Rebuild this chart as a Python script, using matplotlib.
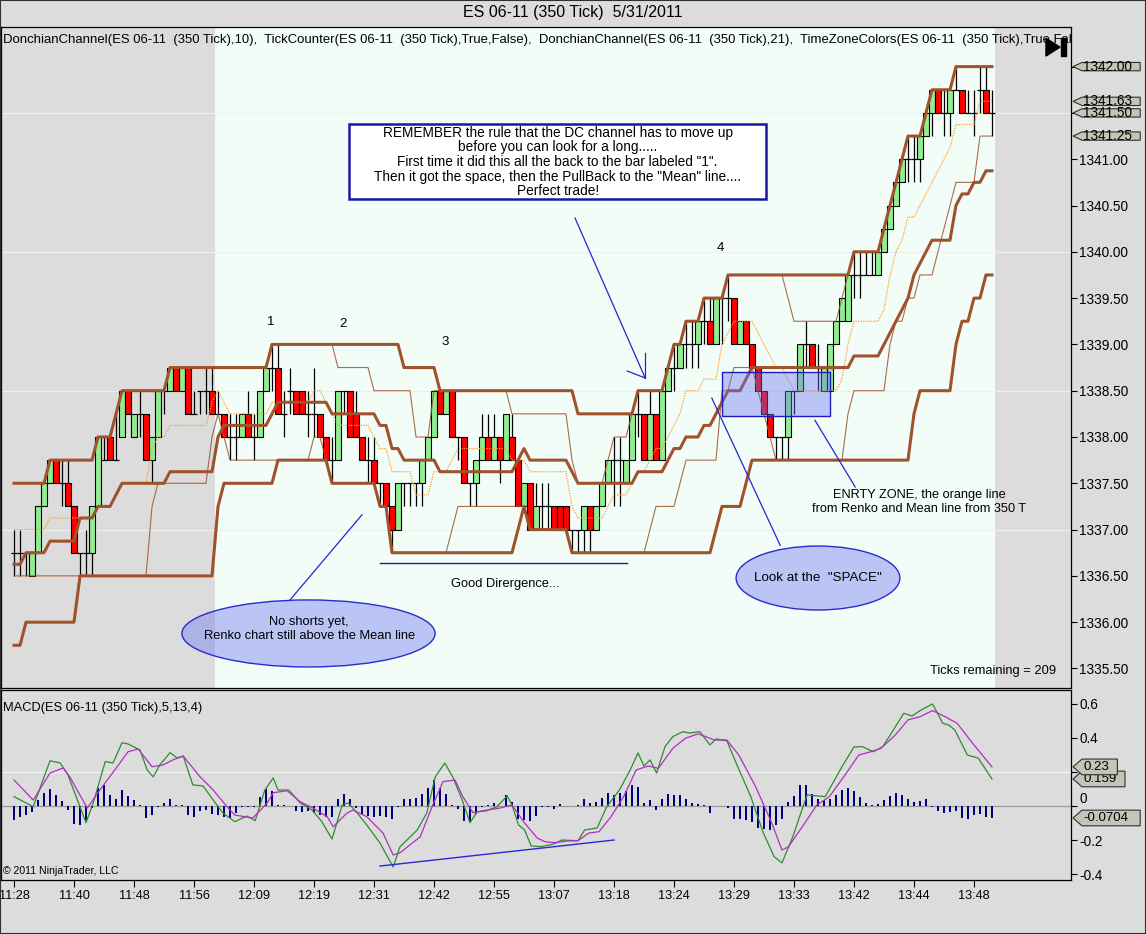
import matplotlib
matplotlib.use("Agg")
import matplotlib.pyplot as plt
import numpy as np
import pandas as pd
from matplotlib.patches import Rectangle, Ellipse, Polygon

plt.rcParams['font.family'] = ['Liberation Sans', 'DejaVu Sans']

# ---------------- data ----------------
opens = [1336.75, 1336.75, 1336.75, 1336.5, 1336.75, 1337.25, 1337.5, 1337.75, 1337.5, 1337.5,
         1337.25, 1336.75, 1336.75, 1336.75, 1337.25, 1337.75, 1338.0, 1337.75, 1338.0, 1338.5,
         1338.0, 1338.25, 1338.25, 1337.75, 1338.0, 1338.5, 1338.5, 1338.75, 1338.5, 1338.75,
         1338.25, 1338.5, 1338.5, 1338.5, 1338.25, 1338.25, 1338.0, 1338.0, 1338.0, 1338.25,
         1338.0, 1338.0, 1338.5, 1338.75, 1338.75, 1338.25, 1338.5, 1338.5, 1338.5, 1338.25,
         1338.25, 1338.25, 1338.0, 1337.75, 1337.75, 1338.5, 1338.5, 1338.25, 1338.0, 1337.75,
         1337.75, 1337.5, 1337.5, 1337.25, 1337.0, 1337.5, 1337.5, 1337.5, 1337.5, 1337.75,
         1338.0, 1338.5, 1338.25, 1338.5, 1338.0, 1338.0, 1337.5, 1337.5, 1337.75, 1338.0,
         1337.75, 1338.0, 1337.75, 1338.0, 1337.75, 1337.25, 1337.5, 1337.0, 1337.25, 1337.25,
         1337.25, 1337.25, 1337.25, 1337.0, 1337.0, 1337.0, 1337.25, 1337.0, 1337.25, 1337.5,
         1337.75, 1337.75, 1337.5, 1337.75, 1338.25, 1338.25, 1337.75, 1338.25, 1337.75, 1338.5,
         1338.75, 1338.75, 1339.0, 1339.0, 1339.0, 1339.25, 1339.25, 1339.0, 1339.5, 1339.5,
         1339.5, 1339.0, 1339.25, 1339.0, 1338.75, 1338.5, 1338.25, 1338.0, 1338.0, 1338.0,
         1338.5, 1338.5, 1339.0, 1339.0, 1338.75, 1338.5, 1338.5, 1339.0, 1339.25, 1339.25,
         1339.75, 1339.75, 1339.75, 1339.75, 1339.75, 1340.0, 1340.25, 1340.5, 1340.75, 1341.0,
         1341.0, 1341.0, 1341.25, 1341.5, 1341.75, 1341.5, 1341.5, 1341.75, 1341.75, 1341.5,
         1341.5, 1341.75, 1341.75, 1341.5]
highs = [1337.0, 1337.0, 1336.75, 1336.75, 1337.25, 1337.5, 1337.75, 1337.75, 1337.75, 1337.75,
         1337.25, 1336.75, 1337.0, 1337.25, 1338.0, 1338.0, 1338.0, 1338.25, 1338.5, 1338.5,
         1338.25, 1338.5, 1338.25, 1338.0, 1338.5, 1338.5, 1338.75, 1338.75, 1338.75, 1338.75,
         1338.5, 1338.5, 1338.75, 1338.75, 1338.5, 1338.25, 1338.25, 1338.25, 1338.25, 1338.5,
         1338.25, 1338.5, 1338.75, 1339.0, 1339.0, 1338.5, 1338.75, 1338.5, 1338.5, 1338.5,
         1338.75, 1338.25, 1338.0, 1338.0, 1338.5, 1338.5, 1338.5, 1338.5, 1338.0, 1338.0,
         1338.0, 1337.5, 1337.5, 1337.25, 1337.5, 1337.5, 1337.5, 1337.5, 1337.75, 1338.0,
         1338.5, 1338.5, 1338.5, 1338.5, 1338.0, 1338.0, 1337.5, 1337.75, 1338.25, 1338.25,
         1338.25, 1338.0, 1338.25, 1338.25, 1337.75, 1337.5, 1337.5, 1337.5, 1337.5, 1337.5,
         1337.25, 1337.25, 1337.25, 1337.0, 1337.0, 1337.25, 1337.25, 1337.25, 1337.5, 1337.75,
         1338.0, 1338.0, 1337.75, 1338.25, 1338.5, 1338.25, 1338.5, 1338.25, 1338.5, 1338.75,
         1339.0, 1339.0, 1339.25, 1339.25, 1339.25, 1339.5, 1339.5, 1339.5, 1339.5, 1339.75,
         1339.5, 1339.25, 1339.25, 1339.0, 1338.75, 1338.5, 1338.25, 1338.0, 1338.0, 1338.5,
         1338.5, 1339.0, 1339.25, 1339.0, 1339.0, 1338.75, 1339.0, 1339.25, 1339.5, 1339.75,
         1340.0, 1340.0, 1340.0, 1340.0, 1340.0, 1340.25, 1340.5, 1340.75, 1341.0, 1341.25,
         1341.25, 1341.25, 1341.5, 1341.75, 1341.75, 1341.75, 1341.75, 1342.0, 1341.75, 1341.75,
         1341.75, 1342.0, 1342.0, 1341.75]
lows = [1336.5, 1336.5, 1336.5, 1336.5, 1336.75, 1337.25, 1337.5, 1337.5, 1337.25, 1337.25,
        1336.75, 1336.5, 1336.5, 1336.5, 1337.25, 1337.75, 1337.75, 1337.75, 1338.0, 1338.25,
        1338.0, 1338.0, 1337.75, 1337.5, 1338.0, 1338.25, 1338.5, 1338.5, 1338.5, 1338.25,
        1338.25, 1338.25, 1338.25, 1338.25, 1338.25, 1338.0, 1337.75, 1337.75, 1338.0, 1338.0,
        1337.75, 1338.0, 1338.5, 1338.5, 1338.25, 1338.0, 1338.25, 1338.25, 1338.25, 1338.0,
        1338.0, 1338.0, 1337.75, 1337.5, 1337.75, 1338.25, 1338.0, 1338.0, 1337.75, 1337.5,
        1337.5, 1337.25, 1337.25, 1336.75, 1337.0, 1337.25, 1337.25, 1337.25, 1337.25, 1337.75,
        1338.0, 1338.25, 1338.25, 1338.0, 1337.75, 1337.5, 1337.25, 1337.25, 1337.75, 1337.75,
        1337.75, 1337.5, 1337.75, 1337.75, 1337.25, 1337.25, 1337.0, 1337.0, 1337.0, 1337.0,
        1337.0, 1337.0, 1337.0, 1336.75, 1336.75, 1336.75, 1336.75, 1337.0, 1337.25, 1337.5,
        1337.25, 1337.25, 1337.5, 1337.75, 1338.0, 1337.75, 1337.75, 1337.75, 1337.75, 1338.5,
        1338.5, 1338.75, 1338.75, 1338.75, 1338.75, 1339.0, 1339.0, 1339.0, 1339.0, 1339.25,
        1339.0, 1339.0, 1339.0, 1338.75, 1338.5, 1338.25, 1338.0, 1337.75, 1337.75, 1337.75,
        1338.25, 1338.5, 1338.75, 1338.75, 1338.5, 1338.5, 1338.5, 1339.0, 1339.25, 1339.25,
        1339.5, 1339.5, 1339.75, 1339.75, 1339.75, 1340.0, 1340.25, 1340.5, 1340.75, 1340.75,
        1340.75, 1340.75, 1341.25, 1341.25, 1341.5, 1341.25, 1341.25, 1341.75, 1341.5, 1341.5,
        1341.25, 1341.5, 1341.5, 1341.25]
closes = [1336.75, 1336.75, 1336.75, 1336.75, 1337.25, 1337.5, 1337.75, 1337.5, 1337.5, 1337.25,
          1336.75, 1336.75, 1336.75, 1337.25, 1338.0, 1337.75, 1337.75, 1337.75, 1338.5, 1338.25,
          1338.25, 1338.25, 1337.75, 1338.0, 1338.5, 1338.5, 1338.75, 1338.5, 1338.75, 1338.25,
          1338.25, 1338.5, 1338.5, 1338.25, 1338.25, 1338.0, 1338.0, 1338.0, 1338.25, 1338.0,
          1338.0, 1338.5, 1338.75, 1338.75, 1338.25, 1338.25, 1338.5, 1338.25, 1338.25, 1338.25,
          1338.25, 1338.0, 1337.75, 1337.75, 1338.5, 1338.5, 1338.0, 1338.0, 1337.75, 1337.75,
          1337.5, 1337.5, 1337.25, 1337.0, 1337.5, 1337.5, 1337.5, 1337.5, 1337.75, 1338.0,
          1338.5, 1338.25, 1338.5, 1338.0, 1338.0, 1337.5, 1337.5, 1337.75, 1338.0, 1337.75,
          1338.0, 1337.75, 1338.25, 1337.75, 1337.25, 1337.5, 1337.0, 1337.25, 1337.25, 1337.25,
          1337.0, 1337.0, 1337.0, 1337.0, 1337.0, 1337.25, 1337.0, 1337.25, 1337.5, 1337.75,
          1337.75, 1337.75, 1337.75, 1338.25, 1338.25, 1337.75, 1338.25, 1337.75, 1338.5, 1338.75,
          1338.75, 1339.0, 1339.0, 1339.0, 1339.25, 1339.25, 1339.0, 1339.5, 1339.5, 1339.5,
          1339.0, 1339.25, 1339.0, 1338.75, 1338.5, 1338.25, 1338.0, 1338.0, 1338.0, 1338.5,
          1338.5, 1339.0, 1339.0, 1338.75, 1338.75, 1338.75, 1339.0, 1339.25, 1339.5, 1339.75,
          1339.75, 1339.75, 1339.75, 1339.75, 1340.0, 1340.25, 1340.5, 1340.75, 1341.0, 1341.0,
          1341.0, 1341.25, 1341.5, 1341.75, 1341.5, 1341.5, 1341.75, 1341.75, 1341.5, 1341.5,
          1341.5, 1341.75, 1341.5, 1341.5]

# Donchian channel values visible at the left edge (from bars before the window)
dc21_upper_head = [1337.5, 1337.5, 1337.5, 1337.5, 1337.5]
dc21_lower_head = [1335.75, 1335.75, 1336.0, 1336.0, 1336.0, 1336.0, 1336.0, 1336.0, 1336.0,
                   1336.0, 1336.0]
dc10_upper_head = [1337.5, 1337.5, 1337.5, 1337.5, 1337.5]

time_labels = ['11:28', '11:40', '11:48', '11:56', '12:09', '12:19', '12:31', '12:42', '12:55',
               '13:07', '13:18', '13:24', '13:29', '13:33', '13:42', '13:44', '13:48']
time_label_bars = [0, 10, 20, 30, 40, 50, 60, 70, 80, 90, 100, 110, 120, 130, 140, 150, 160]

macd_x = [0, 3.2, 6.0, 7.7, 9.0, 12.0, 13.2, 15.2, 16.5, 18.0, 19.0, 21.0, 22.2, 23.2, 24.3,
          26.0, 27.2, 28.2, 29.8, 31.5, 33.2, 34.8, 36.8, 38.8, 40.2, 41.8, 43.2, 44.0, 45.8,
          47.7, 49.7, 51.3, 53.0, 54.7, 55.7, 57.2, 58.8, 61.0, 63.2, 64.3, 67.2, 68.8, 70.2,
          71.8, 73.2, 74.7, 76.0, 77.2, 78.8, 80.5, 82.2, 83.0, 84.1, 85.1, 86.2, 87.8, 89.9,
          91.3, 94.0, 95.1, 97.2, 98.8, 100.9, 102.7, 104.0, 105.0, 106.0, 107.1, 108.5, 109.8,
          111.5, 112.6, 114.3, 116.0, 117.0, 118.8, 120.5, 122.8, 124.9, 126.7, 128.0, 129.8,
          131.5, 132.2, 135.2, 138.0, 140.0, 141.4, 143.2, 144.8, 146.9, 148.3, 149.7, 151.0,
          153.1, 154.8, 155.8, 156.8, 158.9, 160.7, 163.0]
macd_y = [0.055, -0.004, 0.266, 0.253, 0.182, -0.098, 0.018, 0.261, 0.253, 0.372, 0.365, 0.329,
          0.212, 0.171, 0.241, 0.314, 0.282, 0.294, 0.124, 0.118, 0.035, -0.041, -0.092, -0.059,
          -0.086, 0.094, 0.165, 0.094, 0.094, 0.018, -0.024, -0.092, -0.194, 0.006, 0.018,
          -0.041, -0.112, -0.218, -0.359, -0.241, -0.141, -0.041, 0.171, 0.253, 0.165, 0.035,
          -0.098, -0.034, -0.028, -0.004, 0.059, 0.006, -0.112, -0.141, -0.235, -0.239, -0.224,
          -0.2, -0.204, -0.141, -0.129, -0.004, 0.094, 0.212, 0.312, 0.235, 0.271, 0.194, 0.349,
          0.408, 0.437, 0.429, 0.437, 0.359, 0.394, 0.384, 0.241, 0.055, -0.159, -0.298, -0.334,
          -0.181, -0.004, 0.065, 0.055, 0.231, 0.347, 0.349, 0.319, 0.349, 0.466, 0.545, 0.529,
          0.561, 0.6, 0.486, 0.476, 0.447, 0.3, 0.282, 0.159]
avg_x = [0, 3.2, 6.0, 8.2, 9.3, 12.2, 14.3, 16.8, 19.0, 20.7, 23.0, 24.8, 26.5, 28.2, 31.0,
         33.2, 35.5, 36.8, 39.8, 42.2, 43.2, 45.5, 47.7, 49.8, 52.2, 53.2, 55.5, 56.5, 58.8,
         61.5, 63.2, 64.3, 67.7, 69.8, 71.5, 73.5, 74.8, 76.5, 78.8, 81.0, 83.0, 85.1, 87.2,
         88.5, 90.3, 92.0, 94.0, 95.8, 97.5, 99.5, 101.6, 103.7, 105.7, 107.4, 109.8, 111.9,
         114.0, 115.3, 116.7, 118.8, 120.8, 123.6, 126.3, 128.0, 129.1, 131.8, 133.8, 135.9,
         138.7, 140.8, 142.8, 144.5, 146.9, 149.0, 151.0, 153.1, 155.2, 157.2, 160.0, 163.0]
avg_y = [0.153, 0.035, 0.194, 0.224, 0.171, -0.012, 0.094, 0.212, 0.319, 0.335, 0.231, 0.241,
         0.271, 0.294, 0.172, 0.094, -0.004, -0.053, -0.071, 0.018, 0.078, 0.09, 0.025, -0.012,
         -0.063, -0.122, -0.041, -0.024, -0.063, -0.159, -0.288, -0.276, -0.181, 0.006, 0.143,
         0.153, 0.055, -0.039, -0.024, -0.012, 0.006, -0.1, -0.188, -0.21, -0.216, -0.206,
         -0.204, -0.159, -0.151, -0.063, 0.055, 0.212, 0.235, 0.222, 0.339, 0.398, 0.424, 0.408,
         0.388, 0.388, 0.3, 0.114, -0.1, -0.259, -0.239, -0.1, 0.006, 0.055, 0.192, 0.3, 0.319,
         0.339, 0.418, 0.506, 0.525, 0.561, 0.525, 0.486, 0.359, 0.23]
macd_hist = [-0.084, -0.065, -0.055, -0.035, 0.034, 0.078, 0.102, 0.063, 0.028, -0.025,
             -0.104, -0.110, -0.084, -0.012, 0.106, 0.125, 0.066, 0.043, 0.096, 0.059,
             0.034, 0.003, -0.071, -0.055, -0.003, 0.019, 0.043, 0.008, 0.008, -0.055,
             -0.065, -0.031, -0.025, -0.045, -0.051, -0.065, -0.071, -0.039, -0.006, -0.006,
             -0.006, 0.053, 0.098, 0.086, 0.008, 0.006, 0.002, -0.031, -0.035, -0.031,
             -0.039, -0.051, -0.065, -0.065, 0.043, 0.072, 0.043, -0.012, -0.045, -0.059,
             -0.065, -0.059, -0.065, -0.075, -0.003, 0.039, 0.043, 0.047, 0.072, 0.106,
             0.151, 0.106, 0.072, 0.008, -0.019, -0.090, -0.094, -0.045, -0.003, 0.006,
             0.019, 0.002, 0.063, 0.024, -0.075, -0.084, -0.090, -0.059, -0.006, -0.006,
             -0.016, 0.014, 0.002, 0.002, 0.008, 0.043, 0.019, 0.024, 0.047, 0.078,
             0.066, 0.078, 0.086, 0.122, 0.110, 0.019, 0.034, -0.025, 0.043, 0.072,
             0.063, 0.066, 0.043, 0.019, 0.014, 0.006, -0.039, 0.002, -0.002, -0.012,
             -0.075, -0.078, -0.084, -0.094, -0.129, -0.134, -0.143, -0.110, -0.075, 0.024,
             0.059, 0.122, 0.125, 0.072, 0.043, 0.034, 0.043, 0.066, 0.092, 0.106,
             0.086, 0.053, 0.019, 0.004, 0.014, 0.034, 0.059, 0.078, 0.066, 0.039,
             0.024, 0.028, 0.043, -0.006, -0.031, -0.039, -0.035, -0.031, -0.071, -0.078,
             -0.051, -0.045, -0.065, -0.070]

# ---------------- figure ----------------
W, H = 1146, 934
fig = plt.figure(figsize=(W / 100, H / 100), dpi=100, facecolor='#DCDCDC')


def frect(x0, y0, x1, y1):
    return [x0 / W, 1 - y1 / H, (x1 - x0) / W, (y1 - y0) / H]


ax = fig.add_axes(frect(1, 27, 1071, 688))
ax2 = fig.add_axes(frect(1, 690, 1071, 880), sharex=ax)

o = np.array(opens); h = np.array(highs); l = np.array(lows); c = np.array(closes)
n = len(o)
x = np.arange(n)

XMIN, XMAX = -2.17, 176.17
ax.set_xlim(XMIN, XMAX)
ax.set_ylim(1335.289, 1342.428)
ax2.set_ylim(-0.435, 0.682)

# backgrounds
ax.set_facecolor('#DCDCDC')
ax.axvspan(33.5, 163.5, color='#F3FDF8', zorder=0, lw=0)
ax2.set_facecolor('#DCDCDC')

for gy in [1337.0, 1338.5, 1340.0, 1341.5]:
    ax.axhline(gy, color='#EEEEEE', lw=0.9, zorder=0.5)
ax2.axhline(0.2, color='#F2F2F2', lw=0.9, zorder=0.5)
ax2.axhline(0.0, color='#9A9A9A', lw=0.9, zorder=0.6)

# candles
up = c > o
dn = c < o
dj = c == o
ax.vlines(x, l, h, color='black', lw=0.9, zorder=3)
ax.bar(x[up], (c - o)[up], bottom=o[up], width=0.95, color='#90EE90',
       edgecolor='black', lw=0.8, zorder=3.5)
ax.bar(x[dn], (o - c)[dn], bottom=c[dn], width=0.95, color='#FF0000',
       edgecolor='black', lw=0.8, zorder=3.5)
ax.hlines(o[dj], x[dj] - 0.48, x[dj] + 0.48, color='black', lw=0.9, zorder=3.5)

# Donchian channels (computed from bars, plus the values carried in from earlier bars)
hs = pd.Series(h); ls = pd.Series(l)
up21 = hs.rolling(21, min_periods=1).max().to_numpy()
lo21 = ls.rolling(21, min_periods=1).min().to_numpy()
up10 = hs.rolling(10, min_periods=1).max().to_numpy()
lo10 = ls.rolling(10, min_periods=1).min().to_numpy()
k = len(dc21_upper_head); up21[:k] = np.maximum(up21[:k], dc21_upper_head)
k = len(dc21_lower_head); lo21[:k] = np.minimum(lo21[:k], dc21_lower_head)
k = len(dc10_upper_head); up10[:k] = np.maximum(up10[:k], dc10_upper_head)
mid21 = (up21 + lo21) / 2
mid10 = (up10 + lo10) / 2
brown = '#A0522D'
ax.plot(x, up10, color=brown, lw=0.8, alpha=0.85, zorder=4)
ax.plot(x, lo10, color=brown, lw=0.8, alpha=0.85, zorder=4)
ax.plot(x, mid10, color='#F0A030', lw=0.9, ls=(0, (1, 1)), zorder=4.2)
ax.plot(x, up21, color=brown, lw=2.2, zorder=4.5, solid_joinstyle='round')
ax.plot(x, lo21, color=brown, lw=2.2, zorder=4.5, solid_joinstyle='round')
ax.plot(x, mid21, color=brown, lw=2.2, zorder=4.5, solid_joinstyle='round')

# MACD panel
ax2.bar(x, macd_hist, width=0.45, color='#000080', zorder=2)
ax2.plot(macd_x, macd_y, color='#2E8B2E', lw=0.9, zorder=3)
ax2.plot(avg_x, avg_y, color='#B030C0', lw=0.9, zorder=3)
ax2.plot([61.0, 100.0], [-0.353, -0.2], color='#2828D8', lw=1.0, zorder=4)

# axes styling
for a in (ax, ax2):
    a.yaxis.tick_right()
    a.tick_params(axis='y', direction='out', length=4, width=0.8, labelsize=9.8, pad=2,
                  colors='black')
    for s in a.spines.values():
        s.set_color('black')
        s.set_linewidth(0.9)
pticks = np.arange(1335.5, 1342.01, 0.5)
ax.set_yticks(pticks)
# labels at 1341.50 and 1342.00 sit under the value tags
ax.set_yticklabels(['' if v in (1341.5, 1342.0) else '%.2f' % v for v in pticks])
ax.tick_params(axis='x', bottom=False, labelbottom=False)
ax2.set_yticks([-0.4, -0.2, 0.0, 0.2, 0.4, 0.6])
ax2.set_yticklabels(['-0.4', '-0.2', '0', '', '0.4', '0.6'])
ax2.set_xticks(time_label_bars)
ax2.set_xticklabels(time_labels)
ax2.tick_params(axis='x', direction='out', length=5, width=0.8, labelsize=9.2, pad=2)
for lbl in ax2.get_yticklabels():
    if lbl.get_text() == '0':
        lbl.set_verticalalignment('bottom')
ax.set_xlim(XMIN, XMAX)


# value tags on right axis
def tag(a, val, text, hh, zo, fs=9.8):
    tr = a.get_yaxis_transform()
    x0 = (1073 - 1) / 1070.0
    x1 = (1082 - 1) / 1070.0
    x2 = (1082 + 7.6 * len(text) + 5 - 1) / 1070.0
    poly = Polygon([(x0, val), (x1, val + hh), (x2, val + hh), (x2, val - hh), (x1, val - hh)],
                   closed=True, transform=tr, clip_on=False, fc='#C4C4B8', ec='#303030',
                   lw=0.8, zorder=zo)
    a.add_patch(poly)
    a.text((1083 - 1) / 1070.0, val, text, transform=tr, ha='left', va='center',
           fontsize=fs, clip_on=False, zorder=zo + 0.1)


tag(ax, 1342.0, '1342.00', 0.045, 10)
tag(ax, 1341.625, '1341.63', 0.045, 10)
tag(ax, 1341.5, '1341.50', 0.045, 11)
tag(ax, 1341.25, '1341.25', 0.045, 12)
tag(ax2, 0.159, '0.159', 0.046, 10, 9.5)
tag(ax2, 0.23, '0.23', 0.046, 11, 9.5)
tag(ax2, -0.0704, '-0.0704', 0.046, 12, 9.5)

# texts
fig.text(0.5, 1 - 13 / H, 'ES 06-11 (350 Tick)  5/31/2011', ha='center', va='center',
         fontsize=11.5)
ax.text(0.002, 0.981,
        'DonchianChannel(ES 06-11  (350 Tick),10),  TickCounter(ES 06-11  (350 Tick),True,False),  '
        'DonchianChannel(ES 06-11  (350 Tick),21),  TimeZoneColors(ES 06-11  (350 Tick),True,Fals',
        transform=ax.transAxes, ha='left', va='center', fontsize=9.45, clip_on=True, zorder=8)
# play-to-end icon
ax.add_patch(Polygon([(0.9766, 0.983), (0.9766, 0.956), (0.9897, 0.9695)], closed=True,
                     transform=ax.transAxes, fc='black', ec='black', zorder=9))
ax.add_patch(Rectangle((0.9907, 0.956), 0.0042, 0.027, transform=ax.transAxes,
                       fc='black', ec='black', zorder=9))
ax.text((1056 - 1) / 1070, (688 - 671) / 661, 'Ticks remaining = 209', transform=ax.transAxes,
        ha='right', va='center', fontsize=9.3, zorder=8)
ax2.text(0.002, (880 - 708) / 190, 'MACD(ES 06-11 (350 Tick),5,13,4)', transform=ax2.transAxes,
         ha='left', va='center', fontsize=9.3)
ax2.text(0.002, (880 - 871) / 190, '\u00a9 2011 NinjaTrader, LLC', transform=ax2.transAxes,
         ha='left', va='center', fontsize=7.6)

blue = '#2525D0'
fill = (0.4, 0.45, 0.95, 0.4)
# note box
ax.add_patch(Rectangle((55.83, 1340.567), 69.5, 0.813, fc='white', ec='#1818A0', lw=1.8,
                       zorder=6))
ax.text(90.6, 1340.97,
        'REMEMBER the rule that the DC channel has to move up\n'
        'before you can look for a long.....\n'
        'First time it did this all the back to the bar labeled "1".\n'
        'Then it got the space, then the PullBack to the "Mean" line....\n'
        'Perfect trade!', ha='center', va='center', fontsize=9.8, linespacing=1.06, zorder=7)
# arrow from note
ax.plot([93.5, 105.2], [1340.365, 1338.637], color=blue, lw=0.9, zorder=6)
ax.plot([105.2, 105.2], [1338.637, 1338.907], color=blue, lw=0.9, zorder=6)
ax.plot([105.2, 102.2], [1338.637, 1338.713], color=blue, lw=0.9, zorder=6)

# bar labels
for lab, bx, by in [('1', 42.7, 1339.24), ('2', 54.8, 1339.22), ('3', 71.8, 1339.03),
                    ('4', 117.7, 1340.04)]:
    ax.text(bx, by, lab, ha='center', va='center', fontsize=9.5, zorder=7)

# divergence line + text
ax.plot([61.0, 102.2], [1336.64, 1336.64], color='#1C1CB0', lw=1.0, zorder=6)
ax.text(81.8, 1336.41, 'Good Dirergence...', ha='center', va='center', fontsize=9.3, zorder=7)

# ellipse 1
ax.add_patch(Ellipse((49.08, 1335.878), 42.2, 0.724, fc=fill, ec='#2B2BD0', lw=1.0,
                     zorder=6))
ax.text(49.2, 1335.93, 'No shorts yet,\nRenko chart still above the Mean line', ha='center',
        va='center', fontsize=9.3, linespacing=1.25, zorder=7)
ax.plot([46.0, 58.0], [1336.24, 1337.16], color=blue, lw=0.9, zorder=6)

# space ellipse
ax.add_patch(Ellipse((134.0, 1336.477), 27.3, 0.691, fc=fill, ec='#2B2BD0', lw=1.0,
                     zorder=6))
ax.text(134.0, 1336.477, 'Look at the  "SPACE"', ha='center', va='center', fontsize=9.6,
        zorder=7)
ax.plot([127.7, 116.3], [1336.83, 1338.42], color=blue, lw=0.9, zorder=6)

# entry zone box
ax.add_patch(Rectangle((118.0, 1338.23), 18.0, 0.47, fc=fill,
                       ec='#1C1CC0', lw=1.0, zorder=5.5))
ax.plot([133.5, 140.2], [1338.18, 1337.46], color=blue, lw=0.9, zorder=6)
ax.text(150.9, 1337.30, 'ENRTY ZONE, the orange line\nfrom Renko and Mean line from 350 T',
        ha='center', va='center', fontsize=9.2, linespacing=1.25, zorder=7)

# outer frame
fig.add_artist(Rectangle((0, 0), 1, 1, transform=fig.transFigure, fill=False,
                         ec='#303030', lw=1.5))

fig.savefig('out.png', dpi=100, facecolor=fig.get_facecolor())
